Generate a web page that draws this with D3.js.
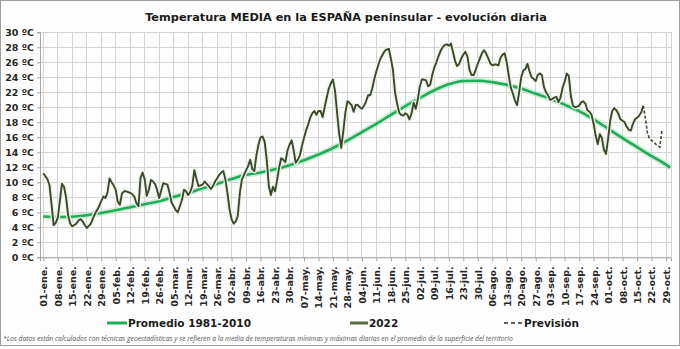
<!DOCTYPE html>
<html>
<head>
<meta charset="utf-8">
<script src="https://cdn.jsdelivr.net/npm/d3@7/dist/d3.min.js"></script>
<style>
  html, body { margin: 0; padding: 0; background: #ffffff; }
  svg { display: block; }
</style>
</head>
<body>
<svg id="chart" width="680" height="349"></svg>
<script>
// Weekly axis labels (01-ene. ... 29-oct.)
const tickLabels = [
  "01-ene.","08-ene.","15-ene.","22-ene.","29-ene.",
  "05-feb.","12-feb.","19-feb.","26-feb.",
  "05-mar.","12-mar.","19-mar.","26-mar.",
  "02-abr.","09-abr.","16-abr.","23-abr.","30-abr.",
  "07-may.","14-may.","21-may.","28-may.",
  "04-jun.","11-jun.","18-jun.","25-jun.",
  "02-jul.","09-jul.","16-jul.","23-jul.","30-jul.",
  "06-ago.","13-ago.","20-ago.","27-ago.",
  "03-sep.","10-sep.","17-sep.","24-sep.",
  "01-oct.","08-oct.","15-oct.","22-oct.","29-oct."
];

// Day of year (0 = 1 January) for the climatological curve
const normalDays = [0,7,14,21,28,35,42,49,56,63,70,77,84,91,98,105,112,119,126,133,
  140,147,154,161,168,175,182,189,196,203,210,217,224,231,238,245,252,259,266,273,
  280,287,294,301,303];
// Promedio 1981-2010 (ºC)
const normalTemp = [5.45,5.37,5.40,5.60,5.90,6.27,6.67,7.07,7.47,8.04,8.57,9.20,9.80,10.44,11.00,11.30,
  11.73,12.27,12.93,13.70,14.57,15.60,16.70,17.80,19.00,20.17,21.24,22.27,23.07,23.50,
  23.55,23.36,23.00,22.50,21.80,21.15,20.35,19.50,18.40,17.15,15.90,14.70,13.50,12.35,11.95];

// 2022 daily mean, from 1 January (day 0) to 18 October (day 290)
const temp2022 = [
  11.2,10.8,10.4,9.6,7.0,4.3,4.6,5.3,7.5,9.8,
  9.4,8.0,5.6,4.5,4.1,4.3,4.5,4.9,5.1,4.8,
  4.3,3.9,4.2,4.5,5.2,5.8,6.3,6.8,7.5,8.1,
  7.9,8.6,10.5,10.0,9.6,9.0,7.4,7.0,8.5,8.8,
  8.8,8.7,8.6,8.4,8.1,7.2,6.8,10.6,11.3,10.4,
  8.2,9.0,10.3,10.1,9.8,9.0,7.9,8.9,9.9,9.8,
  9.7,8.6,7.3,6.8,6.3,6.0,6.8,7.6,9.0,8.8,
  8.3,8.7,9.5,11.6,10.5,9.5,9.6,9.7,10.1,9.8,
  9.5,9.1,9.5,10.1,10.5,11.0,11.3,11.5,10.4,8.6,
  6.4,5.1,4.5,4.8,5.5,8.6,10.4,11.0,11.6,12.2,
  13.0,11.8,11.5,13.6,15.0,16.0,16.1,15.4,13.0,9.5,
  8.3,9.4,8.8,10.3,12.0,13.2,13.0,12.7,14.2,15.0,
  15.6,14.3,12.6,13.0,13.6,14.8,15.9,16.9,17.7,18.6,
  19.2,19.5,19.0,19.5,19.5,18.7,20.0,21.3,22.5,23.2,
  23.7,22.2,19.3,16.5,14.6,16.8,19.3,20.8,20.6,20.3,
  19.4,20.3,20.3,20.0,19.8,20.2,20.8,21.6,21.6,22.5,
  23.8,24.8,25.7,26.5,27.0,27.5,27.7,27.8,26.5,25.0,
  22.0,20.5,19.3,19.0,18.9,19.2,19.0,18.4,19.2,20.6,
  19.8,21.0,22.8,23.7,23.7,23.6,22.8,23.0,24.3,25.3,
  26.0,26.8,27.5,28.0,28.3,28.4,28.2,28.5,27.4,26.2,
  25.5,25.8,26.5,27.0,27.4,26.8,25.0,24.3,24.3,25.0,
  25.8,26.5,27.2,27.6,27.2,26.6,25.9,25.6,25.7,25.7,
  25.6,26.6,27.0,27.2,26.0,24.2,22.6,21.8,20.9,20.3,
  22.0,24.0,24.9,25.1,25.8,24.8,24.0,23.8,23.5,24.3,
  24.5,24.3,22.7,22.0,21.6,21.0,21.1,21.3,21.4,20.7,
  21.3,22.6,23.4,24.5,24.2,21.5,20.2,20.0,20.1,20.2,
  20.7,20.8,20.5,19.6,19.4,19.0,17.8,16.2,15.1,16.4,
  15.9,14.3,13.8,15.8,18.2,19.5,19.9,19.6,19.1,18.4,
  18.2,18.0,17.4,17.0,16.9,17.8,18.4,18.6,18.9,19.3,
  20.2
];

// Forecast (Previsión), starting on the last observed day
const forecastStart = 290;
const forecastTemp = [20.2,18.6,16.6,15.8,15.6,15.4,15.1,14.9,14.7,16.9];

const yTicks = d3.range(0, 31, 2);

const svg = d3.select("#chart");
const W = 680, H = 349;
const plot = { left: 40, right: 671, top: 32.3, bottom: 257.3 };

// chart background and outer frame
svg.append("rect").attr("x", 0.5).attr("y", 0.5).attr("width", W - 1).attr("height", H - 4)
  .attr("fill", "#fdfdfd").attr("stroke", "#9d9d9d").attr("stroke-width", 1);

const x = d3.scaleLinear().domain([-1.6, 303.4]).range([plot.left, plot.right]);
const y = d3.scaleLinear().domain([0, 30]).range([plot.bottom, plot.top]);

const weekDays = tickLabels.map((_, i) => i * 7);

// grid
const grid = svg.append("g").attr("stroke", "#d4d4d4").attr("stroke-width", 1).attr("shape-rendering", "crispEdges");
grid.selectAll("line.h").data(yTicks).join("line").attr("class", "h")
  .attr("x1", plot.left).attr("x2", plot.right)
  .attr("y1", d => y(d)).attr("y2", d => y(d));
grid.selectAll("line.v").data(weekDays).join("line").attr("class", "v")
  .attr("x1", d => x(d)).attr("x2", d => x(d))
  .attr("y1", plot.top).attr("y2", plot.bottom);
grid.append("line").attr("x1", plot.right).attr("x2", plot.right)
  .attr("y1", plot.top).attr("y2", plot.bottom);

// axes
const yAxis = svg.append("g").attr("transform", `translate(${plot.left},0)`)
  .call(d3.axisLeft(y).tickValues(yTicks).tickFormat(d => d + " ºC").tickSize(3).tickPadding(3));
yAxis.selectAll("text").attr("font-family", "DejaVu Sans, Verdana, sans-serif")
  .attr("font-weight", "bold").attr("font-size", 9.5).attr("fill", "#262626");

const xAxis = svg.append("g").attr("transform", `translate(0,${plot.bottom})`)
  .call(d3.axisBottom(x).tickValues(weekDays).tickFormat((d, i) => tickLabels[i]).tickSize(4));
xAxis.selectAll("text")
  .attr("transform", "rotate(-90)")
  .attr("x", -9).attr("y", 0).attr("dy", "0.36em")
  .style("text-anchor", "end")
  .attr("font-family", "DejaVu Sans, Verdana, sans-serif")
  .attr("font-weight", "bold").attr("font-size", 9.5).attr("fill", "#262626");

[yAxis, xAxis].forEach(a => {
  a.select(".domain").attr("stroke", "#a6a6a6");
  a.selectAll(".tick line").attr("stroke", "#a6a6a6");
});

// climatological curve with soft glow
const normalPts = normalDays.map((d, i) => [d, normalTemp[i]]);
const smooth = d3.line().x(d => x(d[0])).y(d => y(d[1])).curve(d3.curveMonotoneX);
svg.append("path").attr("d", smooth(normalPts)).attr("fill", "none")
  .attr("stroke", "#a9ddb8").attr("stroke-width", 6).attr("stroke-opacity", 0.5);
svg.append("path").attr("d", smooth(normalPts)).attr("fill", "none")
  .attr("stroke", "#1fae58").attr("stroke-width", 2.6);

// 2022 series
const obsPts = temp2022.map((v, i) => [i, v]);
const fcPts = forecastTemp.map((v, i) => [forecastStart + i, v]);
const lin = d3.line().x(d => x(d[0])).y(d => y(d[1]));

svg.append("path").attr("d", lin(obsPts)).attr("fill", "none")
  .attr("stroke", "#eef2e8").attr("stroke-width", 4.5).attr("stroke-linejoin", "round");
svg.append("path").attr("d", lin(obsPts)).attr("fill", "none")
  .attr("stroke", "#3a4a2a").attr("stroke-width", 1.9).attr("stroke-linejoin", "round");
svg.append("path").attr("d", lin(fcPts)).attr("fill", "none")
  .attr("stroke", "#3a4a2a").attr("stroke-width", 1.6).attr("stroke-dasharray", "3,2");

// title
const fit = (sel, w) => {
  const len = sel.node().getComputedTextLength();
  sel.attr("font-size", parseFloat(sel.attr("font-size")) * w / len);
};
const title = svg.append("text").attr("x", 346).attr("y", 21).attr("text-anchor", "middle")
  .attr("font-family", "DejaVu Sans, Verdana, sans-serif").attr("font-weight", "bold")
  .attr("font-size", 12).attr("fill", "#1a1a1a")
  .text("Temperatura MEDIA en la ESPAÑA peninsular - evolución diaria");
fit(title, 402);

// legend
const legendFont = "DejaVu Sans, Verdana, sans-serif";
const legY = 323;
const leg = svg.append("g");
leg.append("line").attr("x1", 107).attr("x2", 127).attr("y1", legY).attr("y2", legY)
  .attr("stroke", "#1fae58").attr("stroke-width", 3);
leg.append("text").attr("x", 128).attr("y", legY + 4).attr("font-family", legendFont)
  .attr("font-weight", "bold").attr("font-size", 10.5).attr("fill", "#1a1a1a").text("Promedio 1981-2010");
leg.append("line").attr("x1", 350).attr("x2", 368).attr("y1", legY).attr("y2", legY)
  .attr("stroke", "#5b6b47").attr("stroke-width", 3);
leg.append("text").attr("x", 369).attr("y", legY + 4).attr("font-family", legendFont)
  .attr("font-weight", "bold").attr("font-size", 10.5).attr("fill", "#1a1a1a").text("2022");
leg.append("line").attr("x1", 504).attr("x2", 523).attr("y1", legY).attr("y2", legY)
  .attr("stroke", "#333").attr("stroke-width", 1.6).attr("stroke-dasharray", "4,3");
leg.append("text").attr("x", 524).attr("y", legY + 4).attr("font-family", legendFont)
  .attr("font-weight", "bold").attr("font-size", 10.5).attr("fill", "#1a1a1a").text("Previsión");

// footnote
const note = svg.append("text").attr("x", 3).attr("y", 341)
  .attr("font-family", "Open Sans, sans-serif").attr("font-style", "italic")
  .attr("font-size", 7).attr("fill", "#555")
  .text("*Los datos están calculados con técnicas geoestadísticas y se refieren a la media de temperaturas mínimas y máximas diarias en el promedio de la superficie del territorio");
fit(note, 511);
</script>
</body>
</html>
